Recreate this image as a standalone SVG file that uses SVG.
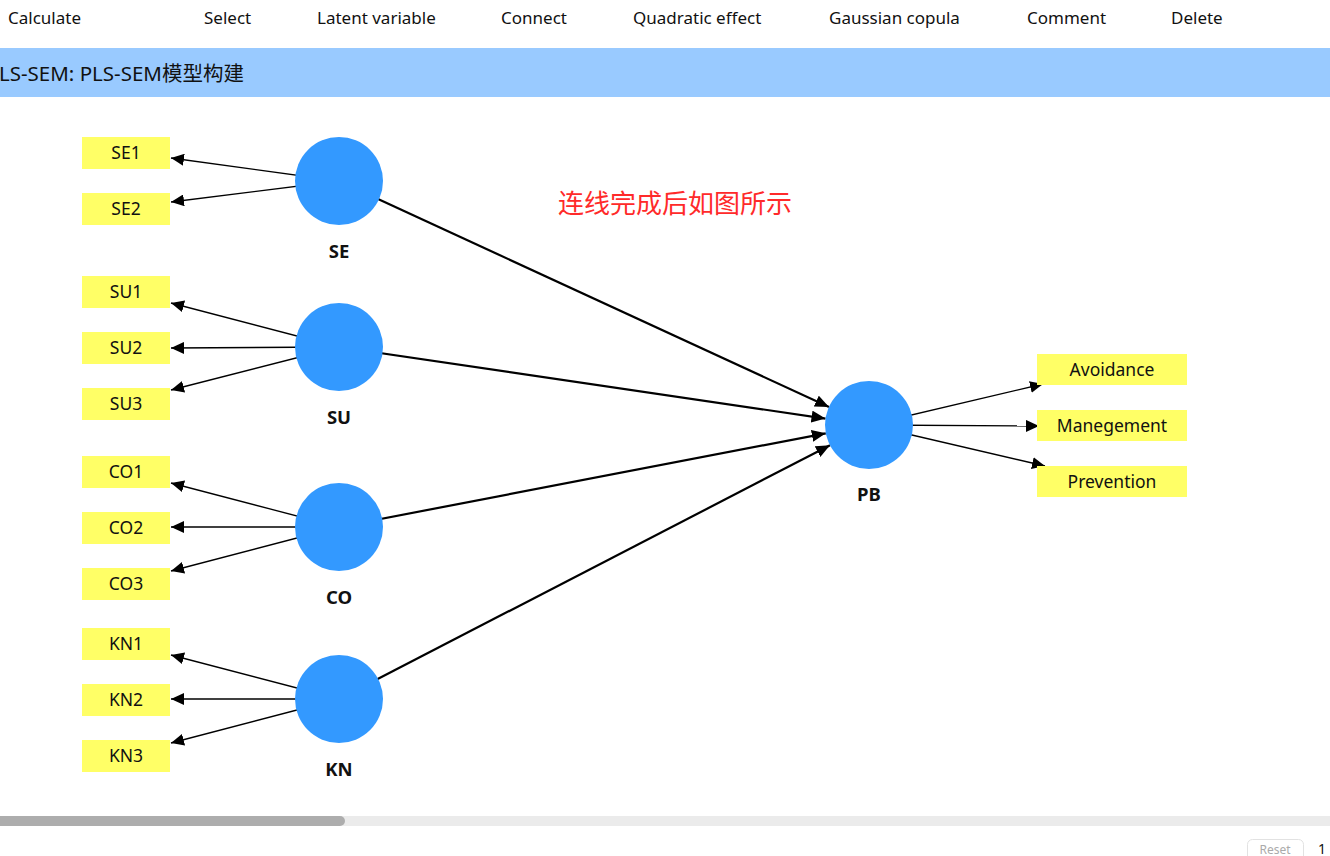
<svg xmlns="http://www.w3.org/2000/svg" width="1330" height="856" viewBox="0 0 1330 856">
<style>
.tb{font-family:"Noto Sans","Open Sans",sans-serif;font-size:17px;fill:#111}
.ind{fill:#FFFF66}
.it{font-family:"Noto Sans","Open Sans",sans-serif;font-size:17.5px;fill:#111;text-anchor:middle}
.lv{fill:#3399FF}
.lt{font-family:"Noto Sans","Open Sans",sans-serif;font-size:18.5px;font-weight:bold;fill:#111;text-anchor:middle}
.thin{stroke:#000;stroke-width:1.3;fill:none;marker-end:url(#ah)}
.thick{stroke:#000;stroke-width:2.2;fill:none;marker-end:url(#ah2)}
</style>
<defs>
<marker id="ah" markerUnits="userSpaceOnUse" markerWidth="14" markerHeight="12" refX="13" refY="6" orient="auto">
<path d="M0,0 L13,6 L0,12 Z" fill="#000"/>
</marker>
<marker id="ah2" markerUnits="userSpaceOnUse" markerWidth="15" markerHeight="12" refX="14" refY="6" orient="auto">
<path d="M0,0 L14,6 L0,12 Z" fill="#000"/>
</marker>
</defs>
<rect x="0" y="0" width="1330" height="856" fill="#fff"/>
<g id="toolbar">
<text class="tb" x="8" y="24">Calculate</text>
<text class="tb" x="204" y="24">Select</text>
<text class="tb" x="317" y="24">Latent variable</text>
<text class="tb" x="501" y="24">Connect</text>
<text class="tb" x="633" y="24">Quadratic effect</text>
<text class="tb" x="829" y="24">Gaussian copula</text>
<text class="tb" x="1027" y="24">Comment</text>
<text class="tb" x="1171" y="24">Delete</text>
</g>
<g id="header">
<rect x="0" y="48" width="1330" height="49" fill="#99CAFF"/>
<text x="-1" y="81" font-family="'Noto Sans','Noto Sans CJK SC',sans-serif" font-size="20.5" fill="#111">LS-SEM: PLS-SEM模型构建</text>
</g>
<g id="note">
<text x="558" y="213" font-family="'Noto Sans CJK SC',sans-serif" font-size="26" fill="#FF2A2A">连线完成后如图所示</text>
</g>
<g id="connectors">
<line class="thin" x1="339" y1="181" x2="171" y2="158"/>
<line class="thin" x1="339" y1="181" x2="171" y2="202"/>
<line class="thin" x1="339" y1="347" x2="171" y2="303"/>
<line class="thin" x1="339" y1="347" x2="171" y2="348"/>
<line class="thin" x1="339" y1="347" x2="171" y2="390"/>
<line class="thin" x1="339" y1="527" x2="171" y2="483"/>
<line class="thin" x1="339" y1="527" x2="171" y2="527"/>
<line class="thin" x1="339" y1="527" x2="171" y2="571"/>
<line class="thin" x1="339" y1="699" x2="171" y2="655"/>
<line class="thin" x1="339" y1="699" x2="171" y2="699"/>
<line class="thin" x1="339" y1="699" x2="171" y2="743"/>
<line class="thin" x1="869" y1="425" x2="1043" y2="384"/>
<line class="thin" x1="869" y1="425" x2="1039" y2="426"/>
<line class="thin" x1="869" y1="425" x2="1045" y2="466"/>
<line class="thick" x1="339" y1="181" x2="829" y2="407"/>
<line class="thick" x1="339" y1="347" x2="825.5" y2="418.6"/>
<line class="thick" x1="339" y1="527" x2="825.8" y2="433.3"/>
<line class="thick" x1="339" y1="699" x2="830" y2="445.2"/>
</g>
<g id="SE1"><rect class="ind" x="82" y="137" width="88" height="32"/><text class="it" x="126" y="159">SE1</text></g>
<g id="SE2"><rect class="ind" x="82" y="193" width="88" height="32"/><text class="it" x="126" y="215">SE2</text></g>
<g id="SU1"><rect class="ind" x="82" y="276" width="88" height="32"/><text class="it" x="126" y="298">SU1</text></g>
<g id="SU2"><rect class="ind" x="82" y="332" width="88" height="32"/><text class="it" x="126" y="354">SU2</text></g>
<g id="SU3"><rect class="ind" x="82" y="388" width="88" height="32"/><text class="it" x="126" y="410">SU3</text></g>
<g id="CO1"><rect class="ind" x="82" y="456" width="88" height="32"/><text class="it" x="126" y="478">CO1</text></g>
<g id="CO2"><rect class="ind" x="82" y="512" width="88" height="32"/><text class="it" x="126" y="534">CO2</text></g>
<g id="CO3"><rect class="ind" x="82" y="568" width="88" height="32"/><text class="it" x="126" y="590">CO3</text></g>
<g id="KN1"><rect class="ind" x="82" y="628" width="88" height="32"/><text class="it" x="126" y="650">KN1</text></g>
<g id="KN2"><rect class="ind" x="82" y="684" width="88" height="32"/><text class="it" x="126" y="706">KN2</text></g>
<g id="KN3"><rect class="ind" x="82" y="740" width="88" height="32"/><text class="it" x="126" y="762">KN3</text></g>
<g id="Avoidance"><rect class="ind" x="1037" y="354" width="150" height="31"/><text class="it" x="1112" y="376">Avoidance</text></g>
<g id="Manegement"><rect class="ind" x="1037" y="410" width="150" height="31"/><text class="it" x="1112" y="432">Manegement</text></g>
<g id="Prevention"><rect class="ind" x="1037" y="466" width="150" height="31"/><text class="it" x="1112" y="488">Prevention</text></g>
<g id="SE"><circle class="lv" cx="339" cy="181" r="44"/><text class="lt" x="339" y="258">SE</text></g>
<g id="SU"><circle class="lv" cx="339" cy="347" r="44"/><text class="lt" x="339" y="424">SU</text></g>
<g id="CO"><circle class="lv" cx="339" cy="527" r="44"/><text class="lt" x="339" y="604">CO</text></g>
<g id="KN"><circle class="lv" cx="339" cy="699" r="44"/><text class="lt" x="339" y="776">KN</text></g>
<g id="PB"><circle class="lv" cx="869" cy="425" r="44"/><text class="lt" x="869" y="501">PB</text></g>
<g id="scrollbar">
<rect x="0" y="816" width="1330" height="10" fill="#EBEBEB"/>
<rect x="-10" y="816" width="355" height="10" rx="5" fill="#ADADAD"/>
</g>
<g id="footer">
<rect x="1247.5" y="839.5" width="56" height="24" rx="5" fill="#fff" stroke="#e2e2e2"/>
<text x="1275" y="854" font-family="'Noto Sans',sans-serif" font-size="12" fill="#aaa" text-anchor="middle">Reset</text>
<text x="1318" y="854" font-family="'Noto Sans',sans-serif" font-size="14" fill="#111">1</text>
</g>
</svg>
